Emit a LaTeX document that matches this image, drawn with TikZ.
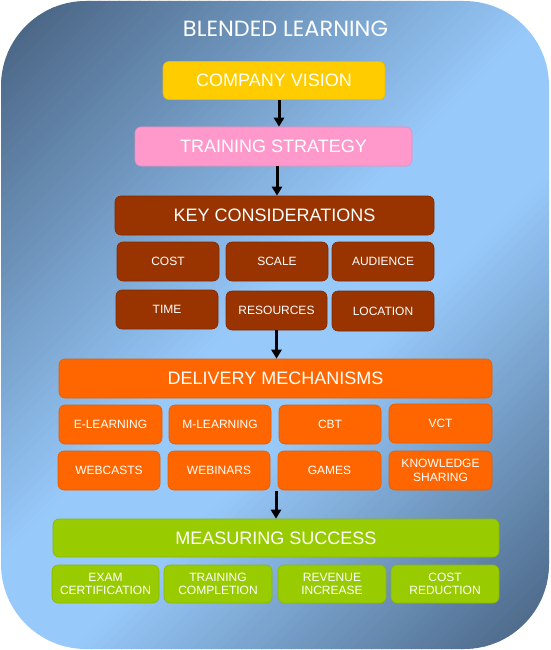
\documentclass[tikz,border=0pt]{standalone}
\usepackage{fontspec}
\setmainfont{Liberation Sans}
\newfontfamily\titlefont{Poppins}
\usetikzlibrary{arrows.meta}
\definecolor{bgdark}{HTML}{4A6585}
\definecolor{bglight}{HTML}{97C9FA}
\definecolor{cgold}{HTML}{FFCC00}
\definecolor{cpink}{HTML}{FF99CC}
\definecolor{cbrown}{HTML}{993300}
\definecolor{corange}{HTML}{FF6600}
\definecolor{cgreen}{HTML}{99CC00}
\tikzset{
  box/.style={rounded corners=6pt, text=white, align=center, inner sep=0pt,
              line width=0.6pt},
  headbox/.style={box, font=\fontsize{18}{20}\selectfont},
  subbox/.style={box, font=\fontsize{12}{13.5}\selectfont},
  goldbox/.style={headbox, fill=cgold, draw=cgold!92!black},
  pinkbox/.style={headbox, fill=cpink, draw=cpink!92!black},
  brownhead/.style={headbox, fill=cbrown, draw=cbrown!85!black},
  brownsub/.style={subbox, fill=cbrown, draw=cbrown!85!black},
  orangehead/.style={headbox, fill=corange, draw=corange!90!black},
  orangesub/.style={subbox, fill=corange, draw=corange!90!black},
  greenhead/.style={headbox, fill=cgreen, draw=cgreen!90!black},
  greensub/.style={subbox, fill=cgreen, draw=cgreen!90!black},
  arr/.style={line width=3pt, black, -{Triangle[width=10pt,length=9pt]}},
}
\begin{document}
\begin{tikzpicture}[x=1pt,y=-1pt]
\useasboundingbox (0,0) rectangle (550,650);
% background: diagonal gradient built from thin strips
\begin{scope}
\clip[rounded corners=85pt] (1,1) rectangle (549,649);
\foreach \i in {0,...,120} {
  \pgfmathsetmacro{\tz}{10*\i}
  \pgfmathsetmacro{\tw}{10*\i+11}
  \pgfmathsetmacro{\pc}{max(0,min(100,min((\tz+5-40)/5.2,(1180-\tz-5)/4.6)))}
  \colorlet{stripcol}{bglight!\pc!bgdark}
  \fill[stripcol] (\tz+800,-800) -- (\tw+800,-800) -- (\tw-800,800) -- (\tz-800,800) -- cycle;
}
\end{scope}

\node[text=white, inner sep=0pt] (title) at (285.5,28.5)
  {\resizebox{205pt}{15.5pt}{\titlefont BLENDED LEARNING}};

\node[goldbox, minimum width=222pt, minimum height=38pt] (cv) at (274,80.5) {COMPANY VISION};
\node[pinkbox, minimum width=277pt, minimum height=39pt] (ts) at (273.5,146.5) {TRAINING STRATEGY};
\node[brownhead, minimum width=319pt, minimum height=39pt] (kc) at (274.5,215.5) {KEY CONSIDERATIONS};

\node[brownsub, minimum width=102pt, minimum height=39pt] (cost) at (168,261.5) {COST};
\node[brownsub, minimum width=102pt, minimum height=39pt] (scale) at (277,261.5) {SCALE};
\node[brownsub, minimum width=102pt, minimum height=39pt] (aud) at (383,261.5) {AUDIENCE};
\node[brownsub, minimum width=102pt, minimum height=39pt] (time) at (167,309.5) {TIME};
\node[brownsub, minimum width=101pt, minimum height=39pt] (res) at (276.5,310.5) {RESOURCES};
\node[brownsub, minimum width=102pt, minimum height=40pt] (loc) at (383,311) {LOCATION};

\node[orangehead, minimum width=433pt, minimum height=39pt] (dm) at (275.5,378.5) {DELIVERY MECHANISMS};
\node[orangesub, minimum width=103pt, minimum height=39pt] (el) at (110.5,424.5) {E-LEARNING};
\node[orangesub, minimum width=102pt, minimum height=39pt] (ml) at (220,424.5) {M-LEARNING};
\node[orangesub, minimum width=102pt, minimum height=39pt] (cbt) at (330,424.5) {CBT};
\node[orangesub, minimum width=103pt, minimum height=39pt] (vct) at (440.5,423.5) {VCT};
\node[orangesub, minimum width=102pt, minimum height=39pt] (wc) at (109,470.5) {WEBCASTS};
\node[orangesub, minimum width=102pt, minimum height=39pt] (wb) at (219,470.5) {WEBINARS};
\node[orangesub, minimum width=103pt, minimum height=39pt] (gm) at (329.5,470.5) {GAMES};
\node[orangesub, minimum width=103pt, minimum height=39pt] (ks) at (440.5,470.5) {KNOWLEDGE\\SHARING};

\node[greenhead, minimum width=446pt, minimum height=38pt] (ms) at (276,538) {MEASURING SUCCESS};
\node[greensub, minimum width=107pt, minimum height=38pt] (ex) at (105.5,584) {EXAM\\CERTIFICATION};
\node[greensub, minimum width=108pt, minimum height=38pt] (tc) at (218,584) {TRAINING\\COMPLETION};
\node[greensub, minimum width=108pt, minimum height=38pt] (rv) at (332,584) {REVENUE\\INCREASE};
\node[greensub, minimum width=108pt, minimum height=38pt] (cr) at (445,584) {COST\\REDUCTION};

\draw[arr] ([xshift=5pt]cv.south) -- ([xshift=5pt]cv.south |- ts.north);
\draw[arr] ([xshift=3.5pt]ts.south) -- ([xshift=3.5pt]ts.south |- kc.north);
\draw[arr] (res.south) -- (res.south |- dm.north);
\draw[arr] ([yshift=-1pt]ms.north |- gm.south) -- (ms.north);
\end{tikzpicture}
\end{document}
